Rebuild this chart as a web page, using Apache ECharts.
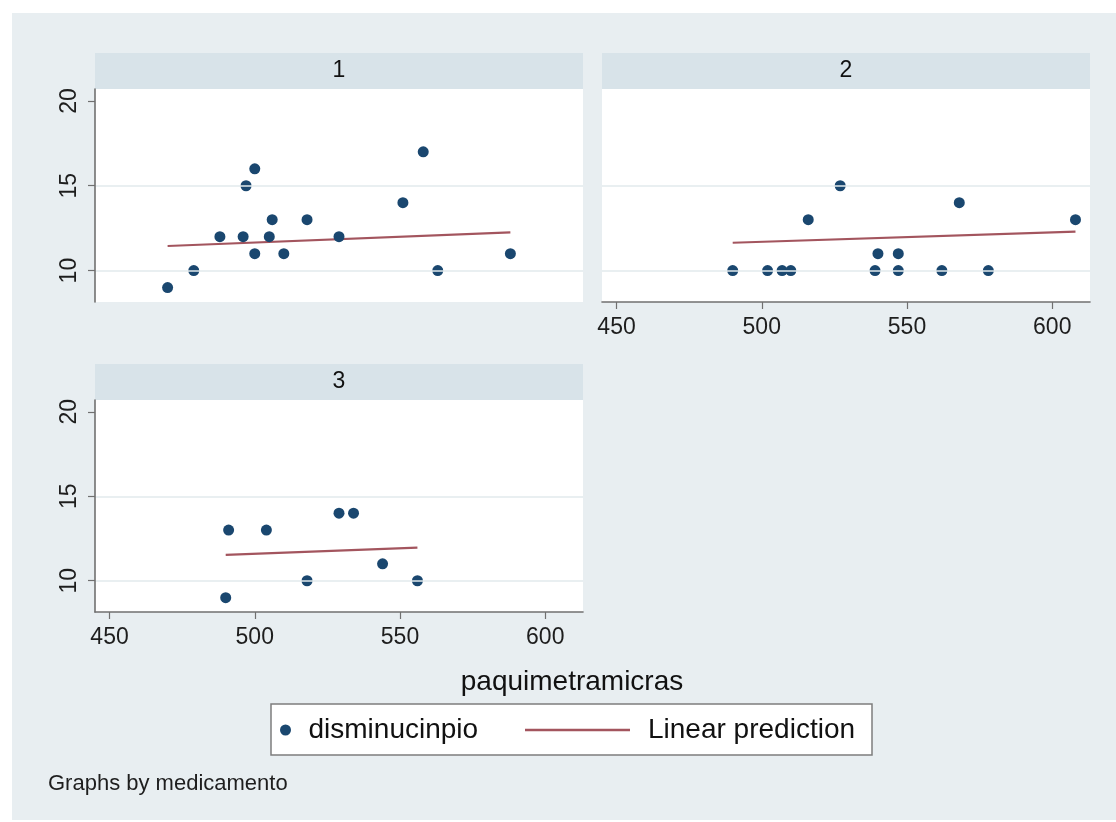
<!DOCTYPE html>
<html>
<head>
<meta charset="utf-8">
<script src="https://cdn.jsdelivr.net/npm/echarts@6/dist/echarts.min.js"></script>
<style>
  html, body { margin: 0; padding: 0; background: #ffffff; }
  #chart { width: 1116px; height: 822px; }
</style>
</head>
<body>
<div id="chart"></div>
<script>
// Panel labels (medicamento groups)
const panelTitles = ['1', '2', '3'];

// Scatter data per group: paquimetramicras (x) vs disminucinpio (y)
const x1 = [470, 479, 488, 496, 497, 500, 500, 505, 506, 510, 518, 529, 551, 558, 563, 588];
const y1 = [9, 10, 12, 12, 15, 16, 11, 12, 13, 11, 13, 12, 14, 17, 10, 11];

const x2 = [490, 502, 507, 510, 516, 527, 539, 540, 547, 547, 562, 568, 578, 608];
const y2 = [10, 10, 10, 10, 13, 15, 10, 11, 10, 11, 10, 14, 10, 13];

const x3 = [491, 504, 490, 518, 529, 534, 544, 556];
const y3 = [13, 13, 9, 10, 14, 14, 11, 10];

// Linear prediction endpoints per group
const fitX1 = [470, 588];
const fitY1 = [11.45, 12.25];
const fitX2 = [490, 608];
const fitY2 = [11.64, 12.30];
const fitX3 = [490, 556];
const fitY3 = [11.53, 11.96];

// Tick labels
const xTicks = [450, 500, 550, 600];
const yTicks = [10, 15, 20];
const yGrid = [10, 15];

const xs = [x1, x2, x3];
const ys = [y1, y2, y3];
const fxs = [fitX1, fitX2, fitX3];
const fys = [fitY1, fitY2, fitY3];

const FONT = 'Liberation Sans, Arial, Helvetica, sans-serif';
const MARKER = '#1a476f';
const FITLINE = '#a3555e';
const BG = '#e8eef1';
const STRIP = '#d8e3e9';

// Panel layout
const layout = [
  { left: 95,  top: 89,  width: 488, height: 213, showX: false, showY: true },
  { left: 602, top: 89,  width: 488, height: 213, showX: true,  showY: false },
  { left: 95,  top: 400, width: 488, height: 212, showX: true,  showY: true }
];
const STRIP_H = 36;

const zip = (a, b) => a.map((v, i) => [v, b[i]]);

const grid = layout.map(l => ({
  left: l.left, top: l.top, width: l.width, height: l.height,
  show: true, backgroundColor: '#ffffff', borderWidth: 0, containLabel: false
}));

const xAxis = layout.map((l, i) => ({
  type: 'value', gridIndex: i, min: 445, max: 613, z: 5,
  axisLine: { show: l.showX, lineStyle: { color: '#707070', width: 1.6 } },
  axisTick: { show: l.showX, customValues: xTicks, length: 7, lineStyle: { color: '#707070', width: 1.2 } },
  axisLabel: { show: l.showX, customValues: xTicks, margin: 14, fontSize: 23, color: '#1e1e1e', fontFamily: FONT },
  splitLine: { show: false }
}));

const yAxis = layout.map((l, i) => ({
  type: 'value', gridIndex: i, min: 8.15, max: 20.7, z: 5,
  axisLine: { show: l.showY, lineStyle: { color: '#707070', width: 1.6 } },
  axisTick: { show: l.showY, customValues: yTicks, length: 7, lineStyle: { color: '#707070', width: 1.2 } },
  axisLabel: { show: l.showY, customValues: yTicks, rotate: 90, margin: 14, fontSize: 23, color: '#1e1e1e', fontFamily: FONT },
  splitLine: { show: false }
}));

const series = [];
layout.forEach((l, i) => {
  // horizontal grid lines
  series.push({
    type: 'line', xAxisIndex: i, yAxisIndex: i, data: [], z: 1, silent: true,
    markLine: {
      silent: true, symbol: 'none', label: { show: false }, animation: false,
      lineStyle: { color: '#e2eaed', width: 1.6, type: 'solid' },
      data: yGrid.map(v => ({ yAxis: v }))
    }
  });
  series.push({
    name: 'Linear prediction', type: 'line', xAxisIndex: i, yAxisIndex: i,
    data: zip(fxs[i], fys[i]), symbol: 'none', z: 2,
    lineStyle: { color: FITLINE, width: 2.2 }, itemStyle: { color: FITLINE }
  });
  series.push({
    name: 'disminucinpio', type: 'scatter', xAxisIndex: i, yAxisIndex: i,
    data: zip(xs[i], ys[i]), symbol: 'circle', symbolSize: 11, z: 3,
    itemStyle: { color: MARKER, opacity: 1 }
  });
});

const graphic = [
  { type: 'rect', z: -1, silent: true, shape: { x: 12, y: 13, width: 1104, height: 807 }, style: { fill: BG } }
];
layout.forEach((l, i) => {
  graphic.push({ type: 'rect', z: -1, silent: true,
    shape: { x: l.left, y: l.top - STRIP_H, width: l.width, height: STRIP_H },
    style: { fill: STRIP } });
  graphic.push({ type: 'text', z: 10, silent: true,
    x: l.left + l.width / 2, y: l.top - STRIP_H / 2,
    style: { text: panelTitles[i], fill: '#111111', font: '23px ' + FONT, align: 'center', verticalAlign: 'middle' } });
});
graphic.push({ type: 'text', z: 10, silent: true, x: 572, y: 682,
  style: { text: 'paquimetramicras', fill: '#111111', font: '28px ' + FONT, align: 'center', verticalAlign: 'middle' } });
graphic.push({ type: 'rect', z: -1, silent: true,
  shape: { x: 271, y: 704, width: 601, height: 51 },
  style: { fill: '#ffffff', stroke: '#7d7d7d', lineWidth: 1.5 } });
graphic.push({ type: 'text', z: 10, silent: true, x: 48, y: 784,
  style: { text: 'Graphs by medicamento', fill: '#1e1e1e', font: '22px ' + FONT, align: 'left', verticalAlign: 'middle' } });

const legendText = { fontSize: 28, color: '#111111', fontFamily: FONT };
const option = {
  backgroundColor: '#ffffff',
  animation: false,
  grid, xAxis, yAxis, series, graphic,
  legend: [
    { data: ['disminucinpio'], left: 280, top: 716, padding: 0, itemGap: 0,
      itemWidth: 20, itemHeight: 11, selectedMode: false, z: 10,
      textStyle: Object.assign({ padding: [0, 0, 0, 8] }, legendText) },
    { data: [{ name: 'Linear prediction', icon: 'rect' }], left: 525, top: 716, padding: 0, itemGap: 0,
      itemWidth: 105, itemHeight: 2.5, selectedMode: false, z: 10,
      itemStyle: { color: FITLINE },
      textStyle: Object.assign({ padding: [0, 0, 0, 13] }, legendText) }
  ]
};

const chart = echarts.init(document.getElementById('chart'), null, { renderer: 'canvas' });
chart.setOption(option);
</script>
</body>
</html>
